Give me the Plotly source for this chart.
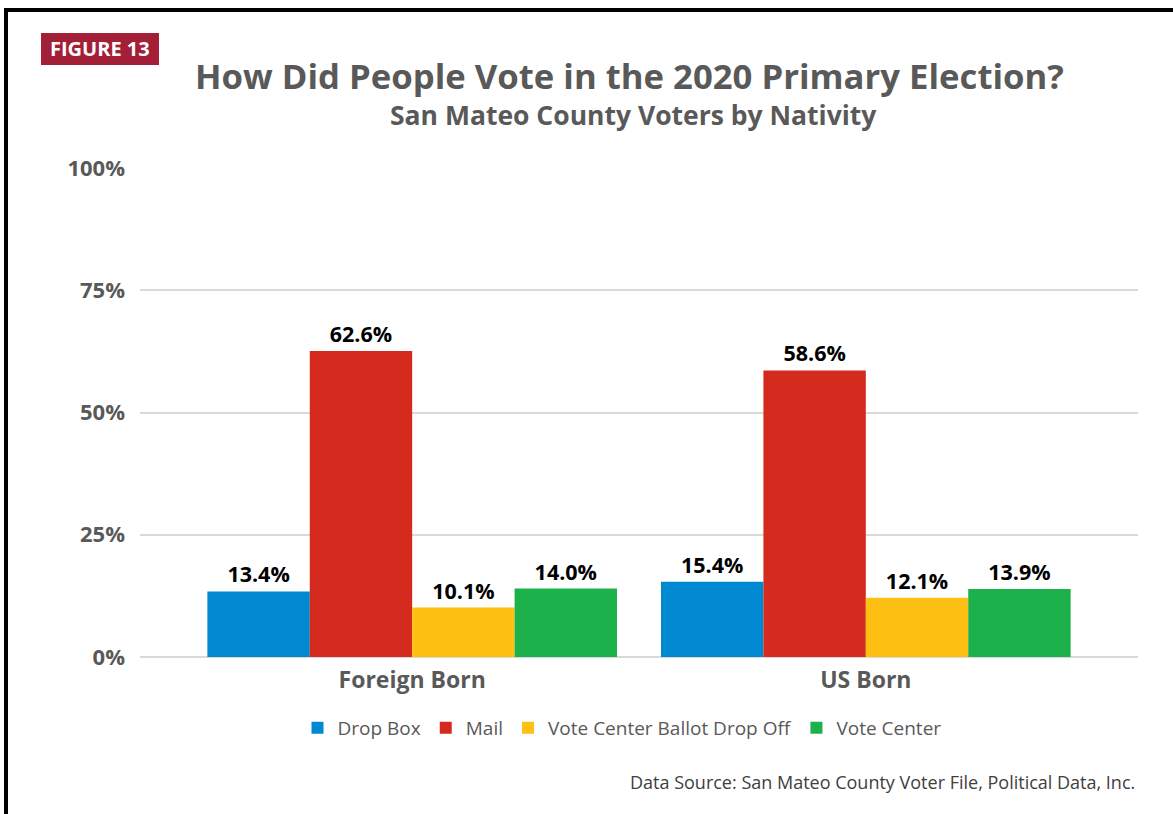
import plotly.graph_objects as go

# Voting method shares (%) by nativity, San Mateo County 2020 primary
categories = ["Foreign Born", "US Born"]
methods = ["Drop Box", "Mail", "Vote Center Ballot Drop Off", "Vote Center"]
drop_box = [13.4, 15.4]
mail = [62.6, 58.6]
ballot_drop_off = [10.1, 12.1]
vote_center = [14.0, 13.9]
colors = ["#0088D1", "#D52B1E", "#FDBF12", "#1DB14B"]
y_ticks = [0, 25, 50, 75, 100]

series = [drop_box, mail, ballot_drop_off, vote_center]

W, H = 1173, 814
ML, MR, MT, MB = 140, 35, 168, 157
PW, PH = W - ML - MR, H - MT - MB


def px_x(px):
    return (px - ML) / PW


def px_y(py):
    return (H - MB - py) / PH


BODY = "Open Sans, Liberation Sans, sans-serif"
GREY = "#595959"

fig = go.Figure()
for name, vals, col in zip(methods, series, colors):
    fig.add_trace(go.Bar(
        x=categories, y=vals, name=name,
        marker=dict(color=col, line=dict(width=0)),
        text=[f"{v:.1f}%" for v in vals],
        textposition="outside",
        textfont=dict(family=BODY, size=21.5, color="#000000", weight="bold"),
        cliponaxis=False,
    ))

shapes = [
    # outer frame: top and left edges
    dict(type="line", xref="paper", yref="paper",
         x0=px_x(4), x1=px_x(W + 10), y0=px_y(10), y1=px_y(10),
         line=dict(color="#000000", width=4)),
    dict(type="line", xref="paper", yref="paper",
         x0=px_x(6), x1=px_x(6), y0=px_y(8), y1=px_y(H + 10),
         line=dict(color="#000000", width=4)),
    # figure badge
    dict(type="rect", xref="paper", yref="paper", layer="below",
         x0=px_x(41), x1=px_x(159), y0=px_y(65), y1=px_y(33),
         fillcolor="#A31F37", line=dict(width=0)),
]

annotations = [
    dict(text="<b>FIGURE 13</b>", xref="paper", yref="paper",
         x=px_x(100), y=px_y(49), xanchor="center", yanchor="middle",
         showarrow=False,
         font=dict(family=BODY, size=20, color="#FFFFFF")),
    dict(text="<b>How Did People Vote in the 2020 Primary Election?</b>",
         xref="paper", yref="paper", x=px_x(629), y=px_y(75),
         xanchor="center", yanchor="middle", showarrow=False,
         font=dict(family=BODY, size=34.7, color=GREY)),
    dict(text="<b>San Mateo County Voters by Nativity</b>",
         xref="paper", yref="paper", x=px_x(633), y=px_y(115),
         xanchor="center", yanchor="middle", showarrow=False,
         font=dict(family=BODY, size=26.5, color=GREY)),
    dict(text="Data Source: San Mateo County Voter File, Political Data, Inc.",
         xref="paper", yref="paper", x=px_x(1137), y=px_y(782),
         xanchor="right", yanchor="middle", showarrow=False,
         font=dict(family=BODY, size=18, color="#404040")),
]

fig.update_layout(
    width=W, height=H,
    margin=dict(l=ML, r=MR, t=MT, b=MB, pad=0),
    paper_bgcolor="#FFFFFF", plot_bgcolor="#FFFFFF",
    barmode="group", bargap=0.097, bargroupgap=0,
    showlegend=True,
    legend=dict(orientation="h", xanchor="center", x=px_x(622),
                yanchor="middle", y=px_y(728),
                font=dict(family=BODY, size=19, color=GREY),
                itemsizing="constant", itemwidth=30,
                bgcolor="rgba(0,0,0,0)"),
    shapes=shapes, annotations=annotations,
    xaxis=dict(range=[-0.6, 1.6], showgrid=False, showline=False, ticks="",
               ticklabelstandoff=7,
               tickfont=dict(family=BODY, size=23, color=GREY, weight="bold")),
    yaxis=dict(range=[0, 100], tickvals=y_ticks,
               ticktext=[f"{t}%" for t in y_ticks],
               showgrid=True, gridcolor="#D9D9D9", gridwidth=1.5,
               zeroline=True, zerolinecolor="#D9D9D9", zerolinewidth=2,
               showline=False, ticks="", ticklabelstandoff=14,
               tickfont=dict(family=BODY, size=22, color=GREY, weight="bold")),
    font=dict(family=BODY),
)

fig.write_html("out.html")
